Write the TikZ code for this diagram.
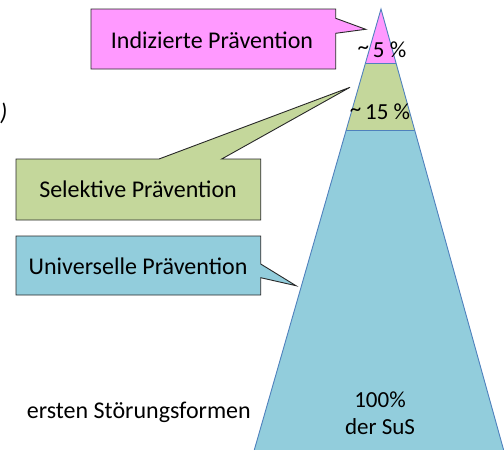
\documentclass[tikz,border=0pt]{standalone}
\usepackage{fontspec}
\setmainfont{Carlito}
\definecolor{pinkfill}{RGB}{255,153,255}
\definecolor{greenfill}{RGB}{196,215,155}
\definecolor{bluefill}{RGB}{146,205,220}
\definecolor{triline}{RGB}{79,129,189}
\definecolor{boxline}{RGB}{40,40,40}
\begin{document}
\begin{tikzpicture}[x=1pt,y=-1pt,
  callout/.style={draw=boxline,line width=0.9pt,line join=miter},
  band/.style={draw=triline,line width=0.9pt},
  lbl/.style={inner sep=0pt,font=\fontsize{24}{28}\selectfont},
  pct/.style={inner sep=0pt,font=\fontsize{23}{27}\selectfont}]
\useasboundingbox (0,0) rectangle (504,450);
\begin{scope}
\clip (0,0) rectangle (504,450);
% pyramid bands
\coordinate (apex) at (381,9);
\coordinate (p1l) at (365.5,63);
\coordinate (p1r) at (396.0,63);
\coordinate (p2l) at (346.3,130);
\coordinate (p2r) at (414.6,130);
\coordinate (bl) at (253.7,452);
\coordinate (br) at (504.2,452);
\fill[bluefill] (p2l) -- (p2r) -- (br) -- (bl) -- cycle;
\fill[greenfill] (p1l) -- (p1r) -- (p2r) -- (p2l) -- cycle;
\fill[pinkfill] (apex) -- (p1r) -- (p1l) -- cycle;
\draw[band] (bl) -- (apex) -- (br);
\draw[band] (p1l) -- (p1r);
\draw[band] (p2l) -- (p2r);
\end{scope}
% callouts
\coordinate (tipI) at (365.7,29.3);
\coordinate (tipS) at (350,87.3);
\coordinate (tipU) at (296,285.7);
\draw[callout,fill=pinkfill] (91,9) -- (335.7,9) -- (335.7,18.3) -- (tipI) -- (335.7,33.3) -- (335.7,69) -- (91,69) -- cycle;
\draw[callout,fill=greenfill] (16,159) -- (159,159) -- (tipS) -- (221.7,159) -- (260.7,159) -- (260.7,220) -- (16,220) -- cycle;
\draw[callout,fill=bluefill] (16,236) -- (260.7,236) -- (260.7,264) -- (tipU) -- (260.7,277.7) -- (260.7,295) -- (16,295) -- cycle;
% texts
\node[lbl] (ind) at (212,40) {Indizierte Prävention};
\node[lbl] (sel) at (138,189.5) {Selektive Prävention};
\node[lbl] (uni) at (138,266) {Universelle Prävention};
\node[pct] (p5) at (382,50) {\raisebox{3pt}{\textasciitilde}\,5 \%};
\node[pct] (p15) at (380,112) {\raisebox{3pt}{\textasciitilde}\,15 \%};
\node[pct] (all) at (380,400) {100\%};
\node[pct] (sus) at (380,427) {der SuS};
\node[lbl,anchor=base east] (stf) at (251,418) {ersten Störungsformen};
\node[lbl,anchor=base west] (par) at (0,120) {\itshape )};
\end{tikzpicture}
\end{document}
